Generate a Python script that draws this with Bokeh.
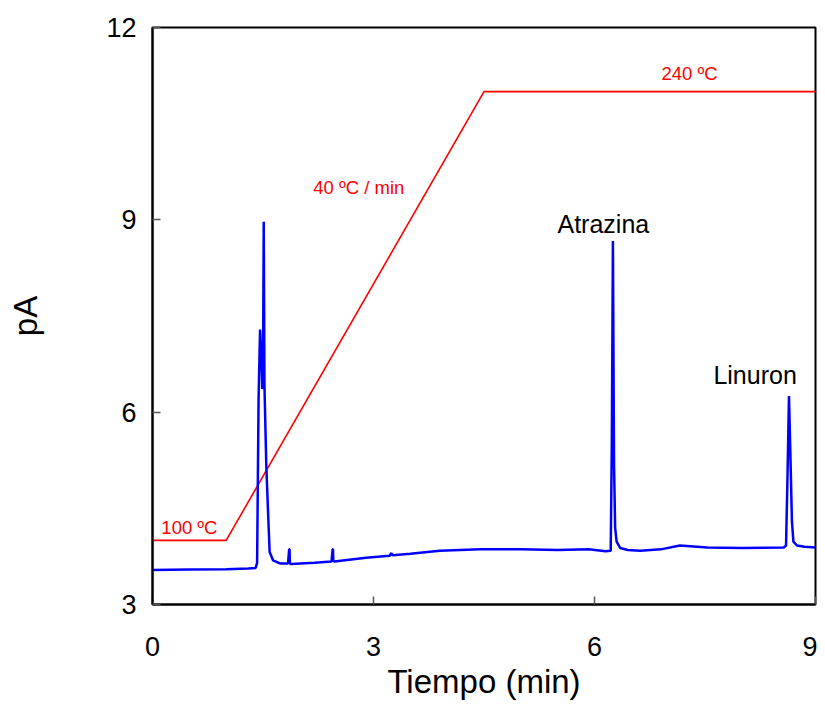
from bokeh.plotting import figure
from bokeh.embed import file_html
from bokeh.resources import INLINE
from bokeh.models import Range1d, FixedTicker
from bokeh.core.properties import value

# Chromatogram (time in min, signal in pA)
time_min = [0.0, 0.5, 1.0, 1.3, 1.40, 1.42, 1.44, 1.46, 1.48, 1.49, 1.50, 1.51, 1.52, 1.53,
            1.545, 1.57, 1.59, 1.636, 1.73, 1.84, 1.855, 1.86, 1.865, 1.88, 2.2, 2.43,
            2.445, 2.45, 2.455, 2.47, 2.9, 3.22, 3.24, 3.26, 3.5, 3.9, 4.45, 5.0, 5.5,
            5.92, 6.15, 6.22, 6.235, 6.25, 6.265, 6.28, 6.30, 6.35, 6.45, 6.62, 6.9,
            7.16, 7.53, 8.0, 8.57, 8.60, 8.62, 8.64, 8.66, 8.68, 8.70, 8.75, 8.85, 9.0]
signal_pA = [3.54, 3.545, 3.55, 3.56, 3.57, 3.65, 6.2, 7.29, 6.8, 6.36, 6.6, 8.97, 6.4, 5.9,
             5.16, 4.4, 3.82, 3.69, 3.64, 3.64, 3.86, 3.86, 3.64, 3.63, 3.65, 3.67,
             3.86, 3.86, 3.68, 3.67, 3.73, 3.76, 3.80, 3.77, 3.79, 3.84, 3.86, 3.86, 3.85,
             3.86, 3.83, 3.84, 5.5, 8.67, 5.2, 4.2, 3.98, 3.88, 3.85, 3.84, 3.86,
             3.92, 3.89, 3.88, 3.89, 3.92, 5.0, 6.25, 5.3, 4.3, 3.98, 3.92, 3.90, 3.89]

# Oven temperature program, drawn on the pA scale
temp_time = [0.0, 1.0, 4.5, 9.0]
temp_level = [4.0, 4.0, 11.0, 11.0]

x_ticks = [0, 3, 6, 9]
y_ticks = [3, 6, 9, 12]

p = figure(width=817, height=702, output_backend="svg", toolbar_location=None,
           x_range=Range1d(0, 9), y_range=Range1d(3, 12),
           min_border_left=152, min_border_top=27, min_border_right=2, min_border_bottom=94)
p.title = None
p.xgrid.visible = False
p.ygrid.visible = False
p.outline_line_color = "black"
p.outline_line_width = 2

font = "Liberation Sans"
for ax in (p.xaxis[0], p.yaxis[0]):
    ax.axis_line_color = "black"
    ax.axis_line_width = 2
    ax.major_tick_in = 8
    ax.major_tick_out = 0
    ax.major_tick_line_color = "#555555"
    ax.major_tick_line_width = 1.5
    ax.minor_tick_line_color = None
    ax.major_label_text_font = font
    ax.major_label_text_font_size = "27px"
    ax.major_label_text_color = "black"
    ax.axis_label_text_font = font
    ax.axis_label_text_font_size = "33px"
    ax.axis_label_text_font_style = "normal"
    ax.axis_label_text_color = "black"

p.xaxis[0].ticker = FixedTicker(ticks=x_ticks)
p.yaxis[0].ticker = FixedTicker(ticks=y_ticks)
p.xaxis[0].axis_label = "Tiempo (min)"
p.yaxis[0].axis_label = "pA"
p.xaxis[0].major_label_standoff = 32
p.yaxis[0].major_label_standoff = 16
p.xaxis[0].axis_label_standoff = 4
p.yaxis[0].axis_label_standoff = 59

p.line(temp_time, temp_level, line_color="red", line_width=1.6)
p.line(time_min, signal_pA, line_color="#0000ff", line_width=2.5)

p.text(x=[0.12], y=[4.20], text=["100 ºC"], text_color="red", text_font=value(font),
       text_font_size="18.5px", text_align="left", text_baseline="middle")
p.text(x=[2.80], y=[9.50], text=["40 ºC / min"], text_color="red", text_font=value(font),
       text_font_size="18.5px", text_align="center", text_baseline="middle")
p.text(x=[7.29], y=[11.29], text=["240 ºC"], text_color="red", text_font=value(font),
       text_font_size="18.5px", text_align="center", text_baseline="middle")
p.text(x=[6.12], y=[8.94], text=["Atrazina"], text_color="black", text_font=value(font),
       text_font_size="25px", text_align="center", text_baseline="middle")
p.text(x=[8.18], y=[6.58], text=["Linuron"], text_color="black", text_font=value(font),
       text_font_size="25px", text_align="center", text_baseline="middle")

open("out.html", "w").write(file_html(p, INLINE))
